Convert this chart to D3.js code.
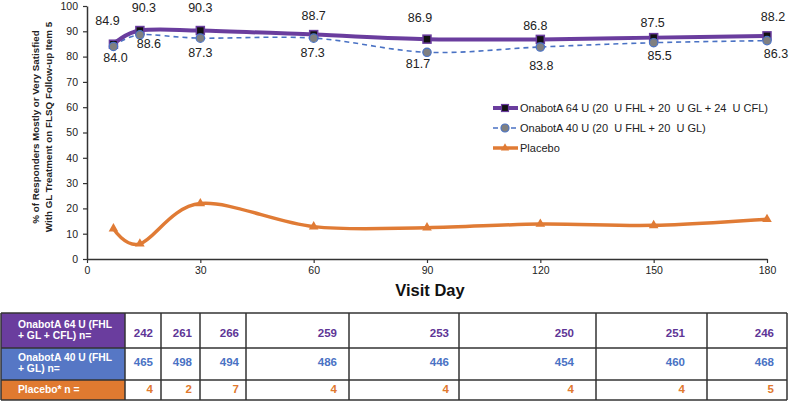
<!DOCTYPE html>
<html><head><meta charset="utf-8">
<script src="https://cdn.jsdelivr.net/npm/d3@7"></script>
<style>
html,body{margin:0;padding:0;background:#fff;}
svg{display:block;font-family:"Liberation Sans",Arial,Helvetica,sans-serif;}
</style></head>
<body>
<svg id="chart" width="789" height="403"></svg>
<script>
// ---- data ----
const days = [7, 14, 30, 60, 90, 120, 150, 180];
const onabot64 = [84.9, 90.3, 90.3, 88.7, 86.9, 86.8, 87.5, 88.2];
const onabot40 = [84.0, 88.6, 87.3, 87.3, 81.7, 83.8, 85.5, 86.3];
const placebo  = [12.0, 6.0, 21.9, 12.8, 12.4, 13.8, 13.3, 15.7];
const xTicks = [0, 30, 60, 90, 120, 150, 180];
const yTicks = [0, 10, 20, 30, 40, 50, 60, 70, 80, 90, 100];
const seriesNames = ["OnabotA 64 U (20  U FHL + 20  U GL + 24  U CFL)", "OnabotA 40 U (20  U FHL + 20  U GL)", "Placebo"];
const n64 = [242, 261, 266, 259, 253, 250, 251, 246];
const n40 = [465, 498, 494, 486, 446, 454, 460, 468];
const nPlacebo = [4, 2, 7, 4, 4, 4, 4, 5];
const rowLabels = [["OnabotA 64 U (FHL", "+ GL + CFL) n="], ["OnabotA 40 U (FHL", "+ GL) n="], ["Placebo* n ="]];

// ---- layout ----
const svg = d3.select("#chart");
const x = d3.scaleLinear().domain([0, 180]).range([87, 767]);
const y = d3.scaleLinear().domain([0, 100]).range([259, 6]);
const C64 = "#6a3d9e", C40 = "#4a72c4", CPL = "#e07b35";
const curve = d3.curveCatmullRom.alpha(0);

// label offsets (pixels) for data labels
const lab64 = [[-6,-19],[4,-18.5],[0,-18.5],[0,-14.6],[-7,-17],[-5,-9.4],[-1,-10.6],[6,-15]];
const lab40 = [[2,15.5],[9,13],[0,19],[-1,19],[-9,16],[1,23],[6,17],[9,17]];

// axes
const yAxis = d3.axisLeft(y).tickValues(yTicks).tickSize(4).tickSizeOuter(0).tickPadding(5);
const gy = svg.append("g").attr("transform", "translate(87,0)").call(yAxis);
const xAxis = d3.axisBottom(x).tickValues(xTicks).tickSize(4).tickSizeOuter(0).tickPadding(4);
const gx = svg.append("g").attr("transform", "translate(0,259)").call(xAxis);
[gx, gy].forEach(g => {
  g.select(".domain").attr("stroke", "#333").attr("stroke-width", 1.5);
  g.selectAll(".tick line").attr("stroke", "#333").attr("stroke-width", 1.2);
  g.selectAll(".tick text").attr("fill", "#222").style("font-size", "10.5px").style("font-family", "Liberation Sans, Arial, sans-serif");
});

// axis titles
svg.append("text").attr("x", 430).attr("y", 296).attr("text-anchor", "middle")
  .style("font-size", "16.5px").style("font-weight", "bold").attr("fill", "#111").text("Visit Day");
const yt = svg.append("g").attr("transform", "translate(0,127) rotate(-90)");
yt.append("text").attr("x", 0).attr("y", 39).attr("text-anchor", "middle")
  .style("font-size", "9.8px").style("font-weight", "bold").attr("fill", "#222").text("% of Responders Mostly or Very Satisfied");
yt.append("text").attr("x", 0).attr("y", 51.5).attr("text-anchor", "middle")
  .style("font-size", "9.8px").style("font-weight", "bold").attr("fill", "#222").text("With GL Treatment on FLSQ Follow-up Item 5");

// lines
const line = d3.line().x(d => x(d[0])).y(d => y(d[1])).curve(curve);
const pts = arr => days.map((d, i) => [d, arr[i]]);

svg.append("path").datum(pts(placebo)).attr("d", line).attr("fill", "none")
  .attr("stroke", CPL).attr("stroke-width", 3.5);
svg.append("path").datum(pts(onabot40)).attr("d", line).attr("fill", "none")
  .attr("stroke", C40).attr("stroke-width", 1.6).attr("stroke-dasharray", "5,4");
svg.append("path").datum(pts(onabot64)).attr("d", line).attr("fill", "none")
  .attr("stroke", C64).attr("stroke-width", 4);

// markers
const tri = d3.symbol().type(d3.symbolTriangle).size(40);
svg.append("g").selectAll("path").data(pts(placebo)).join("path")
  .attr("d", tri).attr("transform", d => `translate(${x(d[0])},${y(d[1])})`)
  .attr("fill", CPL);
svg.append("g").selectAll("rect").data(pts(onabot64)).join("rect")
  .attr("x", d => x(d[0]) - 4).attr("y", d => y(d[1]) - 4).attr("width", 8).attr("height", 8)
  .attr("fill", "#111").attr("stroke", C64).attr("stroke-width", 1.5);
svg.append("g").selectAll("circle").data(pts(onabot40)).join("circle")
  .attr("cx", d => x(d[0])).attr("cy", d => y(d[1])).attr("r", 4.2)
  .attr("fill", "#808080").attr("stroke", C40).attr("stroke-width", 1.2);

// data labels
svg.append("g").selectAll("text").data(pts(onabot64)).join("text")
  .attr("x", (d, i) => x(d[0]) + lab64[i][0]).attr("y", (d, i) => y(d[1]) + lab64[i][1])
  .attr("text-anchor", "middle").style("font-size", "12.5px").attr("fill", "#222")
  .text(d => d[1].toFixed(1));
svg.append("g").selectAll("text").data(pts(onabot40)).join("text")
  .attr("x", (d, i) => x(d[0]) + lab40[i][0]).attr("y", (d, i) => y(d[1]) + lab40[i][1])
  .attr("text-anchor", "middle").style("font-size", "12.5px").attr("fill", "#222")
  .text(d => d[1].toFixed(1));

// legend
const legend = svg.append("g");
const legY = [108, 128, 148];
legend.append("line").attr("x1", 493).attr("x2", 518).attr("y1", legY[0]).attr("y2", legY[0]).attr("stroke", C64).attr("stroke-width", 4);
legend.append("rect").attr("x", 501.5).attr("y", legY[0] - 3.5).attr("width", 7).attr("height", 7).attr("fill", "#111").attr("stroke", C64).attr("stroke-width", 1.2);
legend.append("line").attr("x1", 493).attr("x2", 518).attr("y1", legY[1]).attr("y2", legY[1]).attr("stroke", C40).attr("stroke-width", 1.6).attr("stroke-dasharray", "5,4");
legend.append("circle").attr("cx", 505).attr("cy", legY[1]).attr("r", 4).attr("fill", "#808080").attr("stroke", C40).attr("stroke-width", 1.2);
legend.append("line").attr("x1", 493).attr("x2", 518).attr("y1", legY[2]).attr("y2", legY[2]).attr("stroke", CPL).attr("stroke-width", 3.5);
legend.append("path").attr("d", d3.symbol().type(d3.symbolTriangle).size(30)).attr("transform", `translate(505,${legY[2]})`).attr("fill", CPL);
legend.selectAll("text.lt").data(seriesNames).join("text").attr("class", "lt")
  .attr("x", 520).attr("y", (d, i) => legY[i] + 4).style("font-size", "11px").style("white-space", "pre")
  .attr("fill", "#222").text(d => d);

// table
const colEdges = [125, 161, 200, 246, 349, 459, 596, 707, 787];
const valRight = [153, 192, 239, 337, 449, 574, 685, 774];
const rowEdges = [313, 348, 380, 400];
const rowColors = [C64, "#5677c5", "#e07a30"];
const valColors = ["#5e3596", "#4a72c4", "#e0782e"];
const rowsData = [n64, n40, nPlacebo];
const valBase = [337, 366, 393];
const labBase = [[328, 339], [361, 372], [393]];
const tbl = svg.append("g");
rowColors.forEach((c, r) => {
  tbl.append("rect").attr("x", 1).attr("y", rowEdges[r]).attr("width", colEdges[0] - 1)
    .attr("height", rowEdges[r + 1] - rowEdges[r]).attr("fill", c);
  rowLabels[r].forEach((t, k) => {
    tbl.append("text").attr("x", 18).attr("y", labBase[r][k]).style("font-size", "10.3px")
      .style("font-weight", "bold").attr("fill", "#fff").text(t);
  });
  rowsData[r].forEach((v, i) => {
    tbl.append("text").attr("x", valRight[i]).attr("y", valBase[r]).attr("text-anchor", "end")
      .style("font-size", "11.5px").style("font-weight", "bold").attr("fill", valColors[r]).text(v);
  });
});
rowEdges.forEach(yy => tbl.append("line").attr("x1", 1).attr("x2", 787).attr("y1", yy).attr("y2", yy).attr("stroke", "#333").attr("stroke-width", 1.5));
[1].concat(colEdges).forEach(xx => tbl.append("line").attr("x1", xx).attr("x2", xx).attr("y1", rowEdges[0]).attr("y2", rowEdges[3]).attr("stroke", "#333").attr("stroke-width", 1.5));
</script>
</body></html>
